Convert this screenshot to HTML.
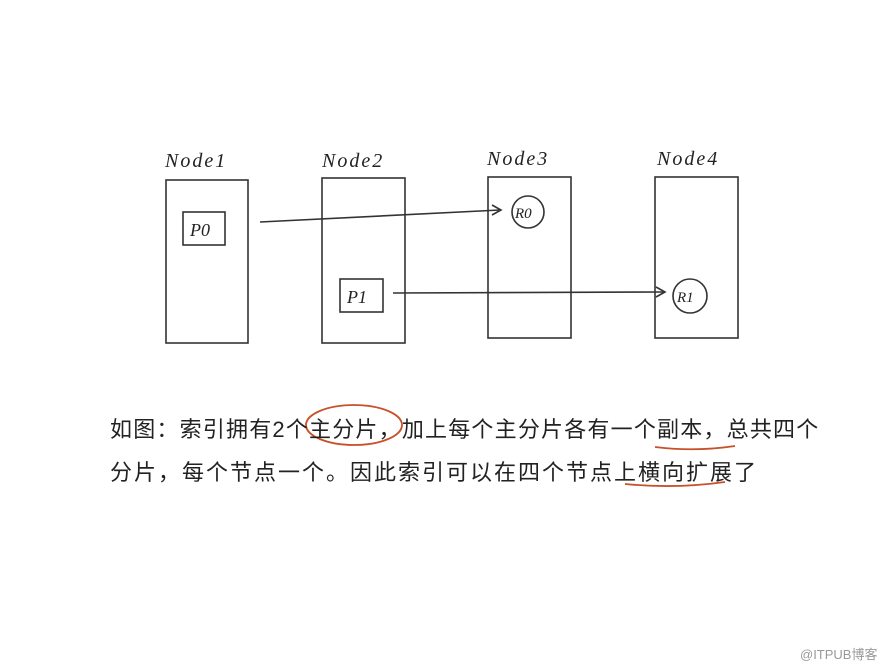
<!DOCTYPE html>
<html><head><meta charset="utf-8"><style>
html,body{margin:0;padding:0;background:#fff;}
body{width:890px;height:668px;position:relative;overflow:hidden;font-family:"Liberation Sans","Noto Sans CJK SC",sans-serif;}
.t{position:absolute;font-family:"Liberation Sans","Noto Sans CJK SC",sans-serif;color:#222;white-space:nowrap;font-size:22px;}
</style></head><body>
<svg width="890" height="668" style="position:absolute;left:0;top:0" xmlns="http://www.w3.org/2000/svg">
<g fill="none" stroke="#333" stroke-width="1.6">
<rect x="166" y="180" width="82" height="163"/>
<rect x="322" y="178" width="83" height="165"/>
<rect x="488" y="177" width="83" height="161"/>
<rect x="655" y="177" width="83" height="161"/>
<rect x="183" y="212" width="42" height="33"/>
<rect x="340" y="279" width="43" height="33"/>
<circle cx="528" cy="212" r="16"/>
<circle cx="690" cy="296" r="17"/>
<path d="M260 222 L500 210"/>
<path d="M492 205 L501 210 L492 215"/>
<path d="M393 293 L664 292"/>
<path d="M656 287 L665 292 L656 297"/>
</g>
<g fill="none" stroke="#c8502a" stroke-width="1.8">
<ellipse cx="354" cy="425" rx="48" ry="20"/>
<path d="M655 447 Q695 452 735 446"/>
<path d="M625 484 Q675 489 725 482"/>
</g>
<g font-family="Liberation Serif, serif" font-style="italic" fill="#222">
<text x="165" y="167" font-size="20" letter-spacing="2">Node1</text>
<text x="322" y="167" font-size="20" letter-spacing="2">Node2</text>
<text x="487" y="165" font-size="20" letter-spacing="2">Node3</text>
<text x="657" y="165" font-size="20" letter-spacing="2">Node4</text>
<text x="190" y="236" font-size="18">P0</text>
<text x="347" y="303" font-size="18">P1</text>
<text x="515" y="218" font-size="15">R0</text>
<text x="677" y="302" font-size="15">R1</text>
</g>
</svg>
<div class="t" style="left:110px;top:412px;letter-spacing:1.2px">如图：索引拥有2个主分片，加上每个主分片各有一个副本，总共四个</div>
<div class="t" style="left:110px;top:455px;letter-spacing:2px">分片，每个节点一个。因此索引可以在四个节点上横向扩展了</div>
<div class="t" style="left:800px;top:644px;font-size:13px;color:#999">@ITPUB博客</div>
</body></html>
